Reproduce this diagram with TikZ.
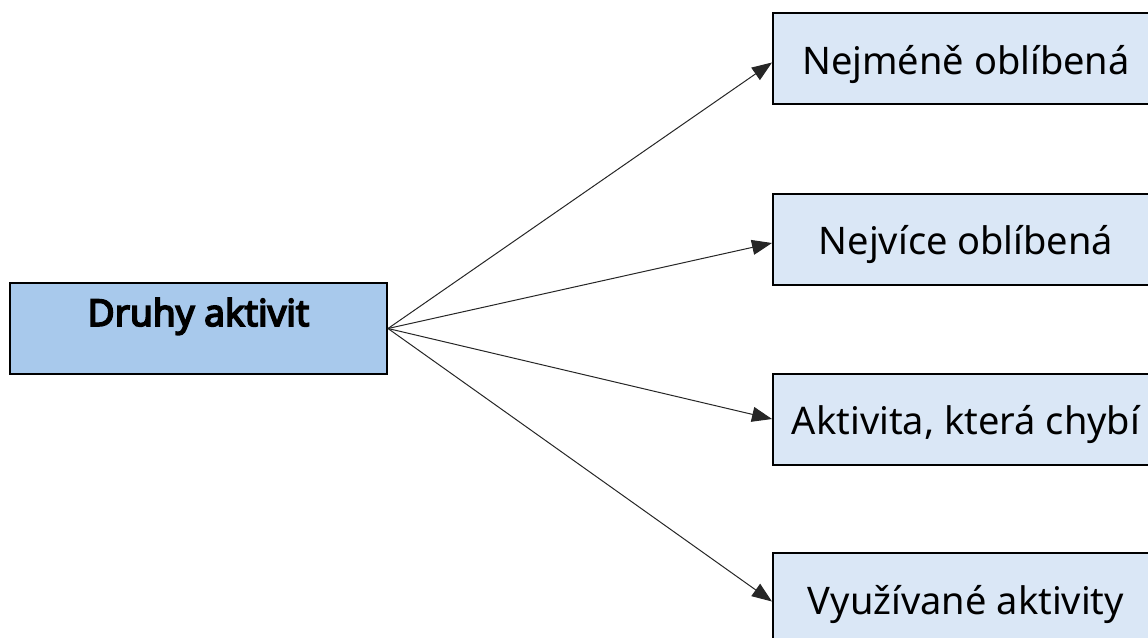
\documentclass[tikz,border=0pt]{standalone}
\usepackage{fontspec}
\setmainfont{Noto Sans}[AutoFakeBold=4.5]
\usetikzlibrary{arrows.meta}
\definecolor{mainfill}{HTML}{A8C9EC}
\definecolor{subfill}{HTML}{DAE7F6}
\tikzset{
  mainbox/.style={draw=black, line width=2pt, fill=mainfill, minimum width=377pt, minimum height=91pt,
    inner sep=0pt, anchor=north west, font=\fontsize{37}{40}\selectfont\bfseries, text height=20pt, text depth=25pt},
  subbox/.style={draw=black, line width=2pt, fill=subfill, minimum width=386pt, minimum height=91pt,
    inner sep=0pt, anchor=north west, font=\fontsize{38}{40}\selectfont, text height=31pt, text depth=0pt},
  conn/.style={draw=black!85, line width=1pt, -{Triangle[length=20pt,width=15pt]}}
}
\begin{document}
\begin{tikzpicture}[x=1pt,y=-1pt]
\useasboundingbox (0,0) rectangle (1148,637);
\begin{scope}
\clip (0,0) rectangle (1148,637);
\node[mainbox] (main) at (9,282) {Druhy aktivit};
\node[subbox] (s1) at (772,12) {Nejméně oblíbená};
\node[subbox] (s2) at (772,192.5) {Nejvíce oblíbená};
\node[subbox] (s3) at (772,372.5) {Aktivita, která chybí};
\node[subbox] (s4) at (772,552) {Využívané aktivity};
\draw[conn] (main.east) -- ([yshift=-4pt]s1.west);
\draw[conn] (main.east) -- ([yshift=-4pt]s2.west);
\draw[conn] (main.east) -- (s3.west);
\draw[conn] (main.east) -- ([yshift=-3pt]s4.west);
\end{scope}
\end{tikzpicture}
\end{document}
